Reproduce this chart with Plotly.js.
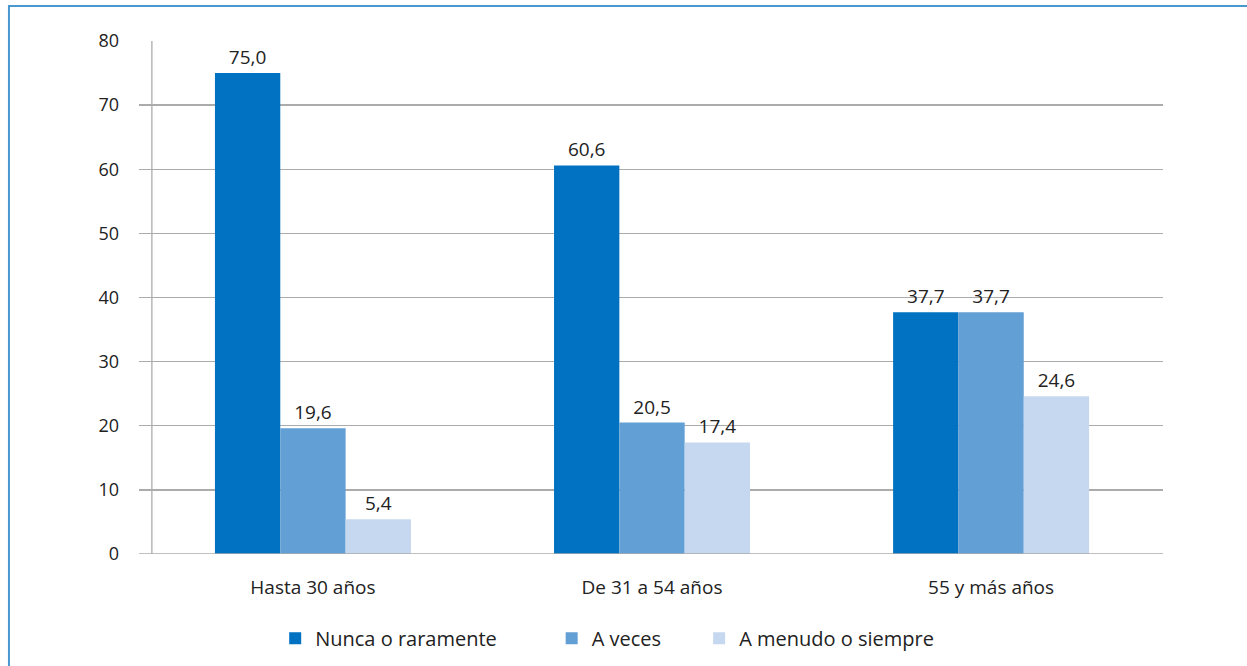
<!DOCTYPE html>
<html><head><meta charset="utf-8">
<script src="https://cdn.plot.ly/plotly-3.0.1.min.js"></script>
<style>html,body{margin:0;padding:0;background:#fff}#c{width:1247px;height:666px}</style>
</head><body><div id="c"></div>
<script>
const categories = ["Hasta 30 años", "De 31 a 54 años", "55 y más años"];
const seriesNames = ["Nunca o raramente", "A veces", "A menudo o siempre"];
const nunca = [75.0, 60.6, 37.7];
const aVeces = [19.6, 20.5, 37.7];
const aMenudo = [5.4, 17.4, 24.6];
const yTicks = [0, 10, 20, 30, 40, 50, 60, 70, 80];
const colors = ["#0072c1", "#629fd5", "#c6d8ef"];

const fmt = v => v.toFixed(1).replace(".", ",");
const fam = "Open Sans";
const font = {family: fam, size: 19, color: "#222"};
const xv = categories.map((c, i) => i);
const legendIds = ["legend", "legend2", "legend3"];
const traces = [nunca, aVeces, aMenudo].map((vals, k) => ({
  type: "bar", x: xv, y: vals, name: seriesNames[k], legend: legendIds[k],
  marker: {color: colors[k], line: {width: 0}},
  text: vals.map(fmt), textposition: "outside", cliponaxis: false,
  textfont: font
}));

const legBase = {orientation: "h", xanchor: "left", y: -0.164, yanchor: "middle",
  font: {family: fam, size: 20, color: "#222"}, itemwidth: 30, bgcolor: "rgba(0,0,0,0)"};
const layout = {
  width: 1247, height: 666,
  margin: {l: 139, r: 84, t: 41, b: 112, autoexpand: false},
  paper_bgcolor: "#fff", plot_bgcolor: "#fff",
  font: font,
  barmode: "group", bargap: 0.422, bargroupgap: 0,
  showlegend: true,
  legend: Object.assign({}, legBase, {x: 0.133}),
  legend2: Object.assign({}, legBase, {x: 0.403}),
  legend3: Object.assign({}, legBase, {x: 0.547}),
  xaxis: {range: [-0.513, 2.507], tickvals: xv, ticktext: categories, showgrid: false,
    zeroline: false, showline: false, ticks: "", tickfont: font, ticklabelstandoff: 20, automargin: false},
  yaxis: {range: [0, 80], tickvals: yTicks, ticktext: yTicks.map(String), showgrid: true,
    gridcolor: "#ababab", gridwidth: 1.3, zeroline: false, showline: false, ticks: "",
    tickfont: {family: fam, size: 18, color: "#222"}, ticklabelstandoff: 19, automargin: false},
  shapes: [
    {type: "line", xref: "x", yref: "y", x0: -0.475, x1: -0.475, y0: 0, y1: 80,
     line: {color: "#ababab", width: 1.3}},
    {type: "line", xref: "paper", yref: "y", x0: 0, x1: 1, y0: 0, y1: 0,
     line: {color: "#ababab", width: 1.3}},
    {type: "rect", xref: "paper", yref: "paper", x0: -0.127, x1: 1.2, y0: -0.4, y1: 1.068,
     line: {color: "#4a98d2", width: 2}, layer: "below"}
  ]
};
Plotly.newPlot("c", traces, layout, {displayModeBar: false, staticPlot: true});
</script></body></html>
